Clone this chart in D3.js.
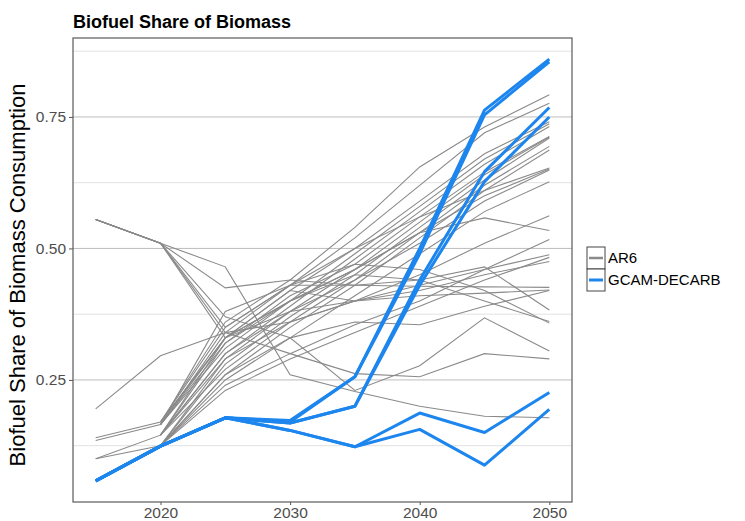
<!DOCTYPE html>
<html>
<head>
<meta charset="utf-8">
<script src="https://cdn.jsdelivr.net/npm/d3@7"></script>
<style>
	html, body { margin: 0; padding: 0; background: #fff; }
	svg { display: block; font-family: "Liberation Sans", Arial, sans-serif; }
</style>
</head>
<body>
<svg id="chart" width="745" height="521"></svg>
<script>
'use strict';

// time axis of every scenario
var years = [2015, 2020, 2025, 2030, 2035, 2040, 2045, 2050];

// AR6 scenarios (grey), null where the scenario has no value
var ar6Series = [
	// bulk of rising scenarios
	[null, 0.170, 0.360, 0.440, 0.540, 0.655, 0.731, 0.792],
	[null, 0.165, 0.340, 0.430, 0.520, 0.620, 0.720, 0.776],
	[0.140, 0.170, 0.330, 0.420, 0.500, 0.590, 0.680, 0.741],
	[0.135, 0.165, 0.310, 0.400, 0.490, 0.580, 0.670, 0.737],
	[null, 0.145, 0.300, 0.390, 0.480, 0.570, 0.660, 0.732],
	[0.100, 0.145, 0.320, 0.410, 0.470, 0.560, 0.645, 0.713],
	[0.100, 0.125, 0.290, 0.380, 0.460, 0.550, 0.640, 0.712],
	[null, 0.125, 0.280, 0.370, 0.450, 0.540, 0.630, 0.710],
	[null, 0.145, 0.270, 0.360, 0.440, 0.530, 0.620, 0.694],
	[null, 0.125, 0.260, 0.350, 0.430, 0.520, 0.610, 0.687],
	[null, 0.165, 0.330, 0.400, 0.460, 0.530, 0.600, 0.651],
	[null, 0.145, 0.300, 0.380, 0.440, 0.510, 0.590, 0.649],
	[null, 0.125, 0.250, 0.330, 0.410, 0.490, 0.570, 0.627],
	[null, 0.170, 0.350, 0.430, 0.500, 0.560, 0.610, 0.653],
	// middle scenarios
	[null, 0.165, 0.320, 0.400, 0.460, 0.530, 0.558, 0.534],
	[0.195, 0.296, 0.340, 0.360, 0.400, 0.450, 0.510, 0.562],
	[null, 0.125, 0.240, 0.300, 0.355, 0.400, 0.460, 0.517],
	[null, 0.145, 0.290, 0.360, 0.400, 0.430, 0.460, 0.488],
	[null, 0.125, 0.230, 0.290, 0.340, 0.390, 0.440, 0.483],
	[null, 0.170, 0.330, 0.380, 0.400, 0.420, 0.450, 0.475],
	// flat scenarios
	[null, 0.165, 0.380, 0.430, 0.430, 0.428, 0.427, 0.426],
	[null, 0.145, 0.330, 0.420, 0.400, 0.410, 0.415, 0.421],
	[null, 0.125, 0.260, 0.330, 0.360, 0.355, 0.390, 0.420],
	// scenarios starting high and falling
	[0.555, 0.510, 0.465, 0.260, 0.228, 0.200, 0.181, 0.178],
	[0.555, 0.510, 0.340, 0.300, 0.262, 0.256, 0.300, 0.290],
	[0.555, 0.510, 0.370, 0.330, 0.230, 0.277, 0.368, 0.305],
	[0.555, 0.510, 0.425, 0.440, 0.430, 0.440, 0.465, 0.383],
	[0.555, 0.510, 0.330, 0.400, 0.450, 0.440, 0.400, 0.361],
	[0.555, 0.510, 0.350, 0.430, 0.470, 0.460, 0.420, 0.358]
];

// GCAM-DECARB scenarios (blue)
var gcamSeries = [
	[0.058, 0.124, 0.178, 0.173, 0.256, 0.500, 0.763, 0.860],
	[0.058, 0.124, 0.178, 0.170, 0.256, 0.490, 0.754, 0.855],
	[0.058, 0.124, 0.178, 0.168, 0.200, 0.440, 0.646, 0.768],
	[0.058, 0.124, 0.178, 0.168, 0.200, 0.430, 0.627, 0.750],
	[0.058, 0.124, 0.178, 0.154, 0.123, 0.187, 0.150, 0.226],
	[0.058, 0.124, 0.178, 0.154, 0.123, 0.156, 0.088, 0.194]
];

var xTicks = [2020, 2030, 2040, 2050];
var yMajorTicks = [0.25, 0.50, 0.75];
var yMinorTicks = [0.125, 0.375, 0.625, 0.875];
var legendLabels = ['AR6', 'GCAM-DECARB'];

var colors = { ar6: '#8a8a8a', gcam: '#1c86ee' };
var panel = { left: 73, right: 572, top: 38, bottom: 502 };

var svg = d3.select('#chart');

// ggplot-like 5% expansion of the data range
var allValues = d3.merge(ar6Series.concat(gcamSeries)).filter(function (v) { return v !== null; });
var yMin = d3.min(allValues), yMax = d3.max(allValues);
var yPad = (yMax - yMin) * 0.05;
var xPad = (d3.max(years) - d3.min(years)) * 0.05;

var x = d3.scaleLinear()
	.domain([d3.min(years) - xPad, d3.max(years) + xPad])
	.range([panel.left, panel.right]);
var y = d3.scaleLinear()
	.domain([yMin - yPad, yMax + yPad])
	.range([panel.bottom, panel.top]);

// grid lines (horizontal only)
svg.append('g').selectAll('line')
	.data(yMinorTicks)
	.enter().append('line')
	.attr('x1', panel.left).attr('x2', panel.right)
	.attr('y1', y).attr('y2', y)
	.attr('stroke', '#dadada').attr('stroke-width', 0.8);

svg.append('g').selectAll('line')
	.data(yMajorTicks)
	.enter().append('line')
	.attr('x1', panel.left).attr('x2', panel.right)
	.attr('y1', y).attr('y2', y)
	.attr('stroke', '#bdbdbd').attr('stroke-width', 1);

var line = d3.line()
	.defined(function (d) { return d !== null; })
	.x(function (d, i) { return x(years[i]); })
	.y(function (d) { return y(d); });

svg.append('g').attr('class', 'ar6').selectAll('path')
	.data(ar6Series)
	.enter().append('path')
	.attr('d', line)
	.attr('fill', 'none')
	.attr('stroke', colors.ar6)
	.attr('stroke-width', 1.1);

svg.append('g').attr('class', 'gcam').selectAll('path')
	.data(gcamSeries)
	.enter().append('path')
	.attr('d', line)
	.attr('fill', 'none')
	.attr('stroke', colors.gcam)
	.attr('stroke-width', 3)
	.attr('stroke-linejoin', 'round');

// axes
var xAxis = d3.axisBottom(x).tickValues(xTicks).tickFormat(d3.format('d')).tickSize(3).tickPadding(2);
var yAxis = d3.axisLeft(y).tickValues(yMajorTicks).tickFormat(d3.format('.2f')).tickSize(4).tickPadding(3);

var gx = svg.append('g').attr('transform', 'translate(0,' + panel.bottom + ')').call(xAxis);
var gy = svg.append('g').attr('transform', 'translate(' + panel.left + ',0)').call(yAxis);
[gx, gy].forEach(function (g) {
	g.select('.domain').remove();
	g.selectAll('.tick line').attr('stroke', '#555');
	g.selectAll('.tick text')
		.attr('fill', '#4d4d4d')
		.style('font-size', '15.5px')
		.style('font-family', '"Liberation Sans", Arial, sans-serif');
});

// panel border
svg.append('rect')
	.attr('x', panel.left).attr('y', panel.top)
	.attr('width', panel.right - panel.left).attr('height', panel.bottom - panel.top)
	.attr('fill', 'none').attr('stroke', '#5a5a5a').attr('stroke-width', 1.2);

// titles
svg.append('text')
	.attr('x', panel.left).attr('y', 28)
	.style('font-size', '18px').style('font-weight', 'bold')
	.text('Biofuel Share of Biomass');

svg.append('text')
	.attr('transform', 'translate(25,' + ((panel.top + panel.bottom) / 2 + 5) + ') rotate(-90)')
	.attr('text-anchor', 'middle')
	.style('font-size', '22px')
	.text('Biofuel Share of Biomass Consumption');

// legend
var keyW = 18, keyH = 22;
var legend = svg.append('g').attr('transform', 'translate(587,247)');
var items = legend.selectAll('g')
	.data(legendLabels)
	.enter().append('g')
	.attr('transform', function (d, i) { return 'translate(0,' + (i * keyH) + ')'; });
items.append('rect')
	.attr('width', keyW).attr('height', keyH)
	.attr('fill', '#fff').attr('stroke', '#444').attr('stroke-width', 1);
items.append('line')
	.attr('x1', 2).attr('x2', keyW - 2)
	.attr('y1', keyH / 2).attr('y2', keyH / 2)
	.attr('stroke', function (d, i) { return i === 0 ? colors.ar6 : colors.gcam; })
	.attr('stroke-width', function (d, i) { return i === 0 ? 2.5 : 3; });
items.append('text')
	.attr('x', keyW + 3).attr('y', keyH / 2)
	.attr('dy', '0.35em')
	.style('font-size', '15px')
	.text(function (d) { return d; });
</script>
</body>
</html>
